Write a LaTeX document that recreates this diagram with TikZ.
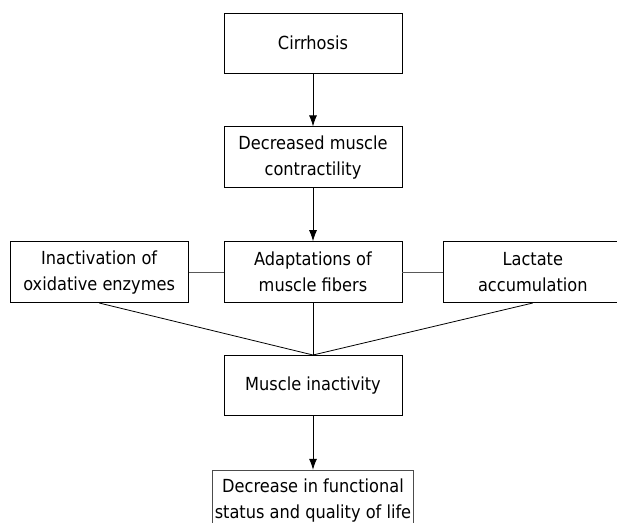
\documentclass[tikz,border=0pt]{standalone}
\usepackage{fontspec}
\setmainfont{DejaVu Sans Condensed}
\usetikzlibrary{positioning,arrows.meta}

\begin{document}
\begin{tikzpicture}[
	x=1pt, y=1pt,
	flowbox/.style={rectangle, draw=black, line width=0.8pt, minimum width=178pt, minimum height=60pt, inner sep=2pt, align=center, font=\fontsize{18pt}{26pt}\selectfont},
	greybox/.style={flowbox, draw=black!70, minimum width=201pt},
	link/.style={draw=black!65, line width=0.8pt},
	node distance=53pt
	]
	\useasboundingbox (0,0) rectangle (617,-522);
	\clip (0,0) rectangle (617,-522);
	%Nodes
	\node[flowbox](Cirrhosis) at (313,-43) {Cirrhosis};
	\node[flowbox, minimum height=61pt](Contractility)[below=of Cirrhosis] {Decreased muscle\\contractility};
	\node[flowbox, minimum height=61pt](Fibers)[below=of Contractility] {Adaptations of\\muscle fibers};
	\node[flowbox, minimum height=61pt](Enzymes)[left=35pt of Fibers] {Inactivation of\\oxidative enzymes};
	\node[flowbox, minimum height=61pt](Lactate)[right=41pt of Fibers] {Lactate\\accumulation};
	\node[flowbox](Inactivity)[below=52pt of Fibers] {Muscle inactivity};
	\node[greybox](Status)[below=54pt of Inactivity] {Decrease in functional\\status and quality of life};
	%Lines
	\draw[-{Latex[length=11pt,width=8pt]}, line width=0.8pt] (Cirrhosis) -- (Contractility);
	\draw[-{Latex[length=11pt,width=8pt]}, line width=0.8pt] (Contractility) -- (Fibers);
	\draw[link] (Enzymes) -- (Fibers);
	\draw[link] (Fibers) -- (Lactate);
	\draw[line width=0.8pt] (Fibers.south) -- (Inactivity.north);
	\draw[line width=0.8pt] (Enzymes.south) -- (Inactivity.north);
	\draw[line width=0.8pt] (Lactate.south) -- (Inactivity.north);
	\draw[-{Latex[length=11pt,width=8pt]}, line width=0.8pt] (Inactivity) -- (Status);
\end{tikzpicture}
\end{document}
